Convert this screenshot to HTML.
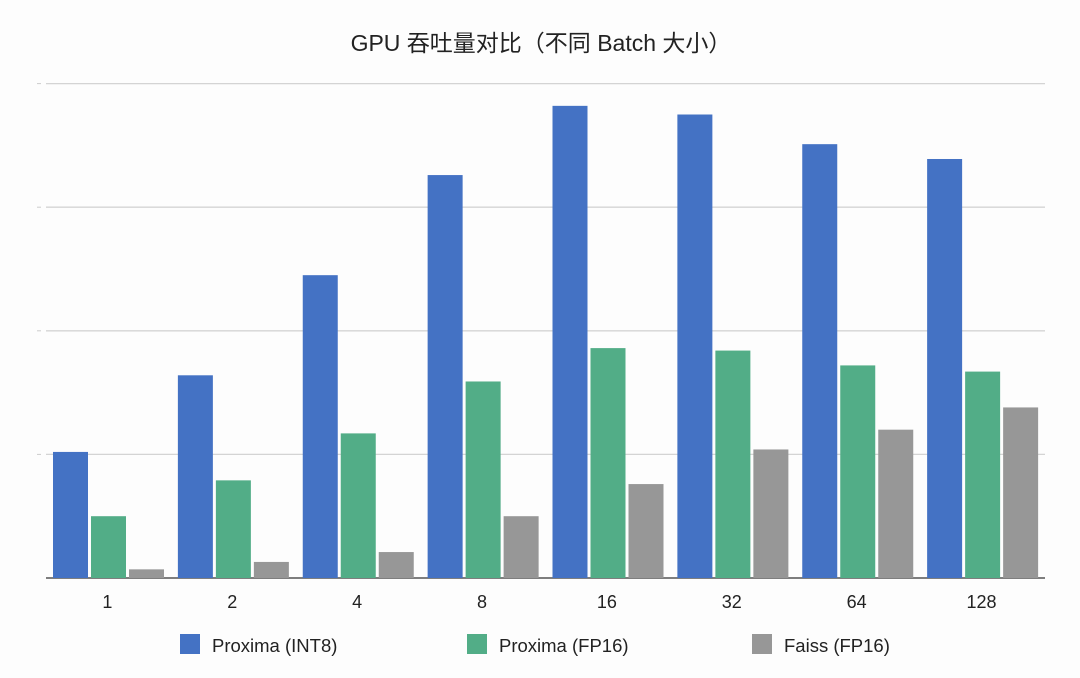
<!DOCTYPE html>
<html><head><meta charset="utf-8"><style>
html,body{margin:0;padding:0;background:#fdfdfd;}
svg{display:block;font-family:"Liberation Sans","Noto Sans CJK SC",sans-serif;}
</style></head><body>
<svg id="chart" width="1080" height="678">
<text x="541" y="51" text-anchor="middle" font-size="23" fill="#222">GPU 吞吐量对比（不同 Batch 大小）</text>
<g id="grid"></g><g id="bars"></g><g id="xlabels"></g><g id="legend"></g>
</svg>
<script>
const categories = ["1","2","4","8","16","32","64","128"];
const seriesNames = ["Proxima (INT8)","Proxima (FP16)","Faiss (FP16)"];
const int8Values = [1.02,1.64,2.45,3.26,3.82,3.75,3.51,3.39];
const fp16Values = [0.50,0.79,1.17,1.59,1.86,1.84,1.72,1.67];
const faissValues = [0.07,0.13,0.21,0.50,0.76,1.04,1.20,1.38];
const gridTicks = [1,2,3,4];

const colors = ["#4472c4","#52ad87","#979797"];
const series = [int8Values, fp16Values, faissValues];
const NS = "http://www.w3.org/2000/svg";
const L = 46, R = 1045, Y0 = 578, unit = 123.6;
const groupW = (R - L) / categories.length;
const y = v => Y0 - v * unit;
function mk(tag, attrs, parent){const e=document.createElementNS(NS,tag);for(const k in attrs)e.setAttribute(k,attrs[k]);parent.appendChild(e);return e;}
const grid = document.getElementById('grid');
gridTicks.forEach(t=>{
  const l = mk('line',{x1:L,x2:R,y1:y(t),y2:y(t),stroke:'#d4d4d4','stroke-width':1.3},grid);
  
  
  const tk = mk('line',{x1:37,x2:41,y1:y(t),y2:y(t),stroke:'#ccc','stroke-width':1},grid);
  
  
});
const bars = document.getElementById('bars');
const bw = 35, gap = 3, pad = 7;
categories.forEach((c,i)=>{
  series.forEach((s,j)=>{
    const x = L + i*groupW + pad + j*(bw+gap);
    const r = mk('rect',{x:x,y:y(s[i]),width:bw,height:Y0-y(s[i]),fill:colors[j]},bars);
    
    
  });
  const t = mk('text',{x:L+i*groupW+groupW/2-1,y:608,'text-anchor':'middle','font-size':18,fill:'#222'},document.getElementById('xlabels'));
  t.textContent = c;
  
  
});
const base = mk('line',{x1:L,x2:R,y1:Y0,y2:Y0,stroke:'#333','stroke-width':1.3},grid);


const lg = document.getElementById('legend');
const lx = [180,467,752];
seriesNames.forEach((n,j)=>{
  const r = mk('rect',{x:lx[j],y:634,width:20,height:20,fill:colors[j]},lg);
  
  
  const t = mk('text',{x:lx[j]+32,y:652,'font-size':18.5,fill:'#222'},lg);
  t.textContent = n;
  
  
});
</script>
</body></html>
